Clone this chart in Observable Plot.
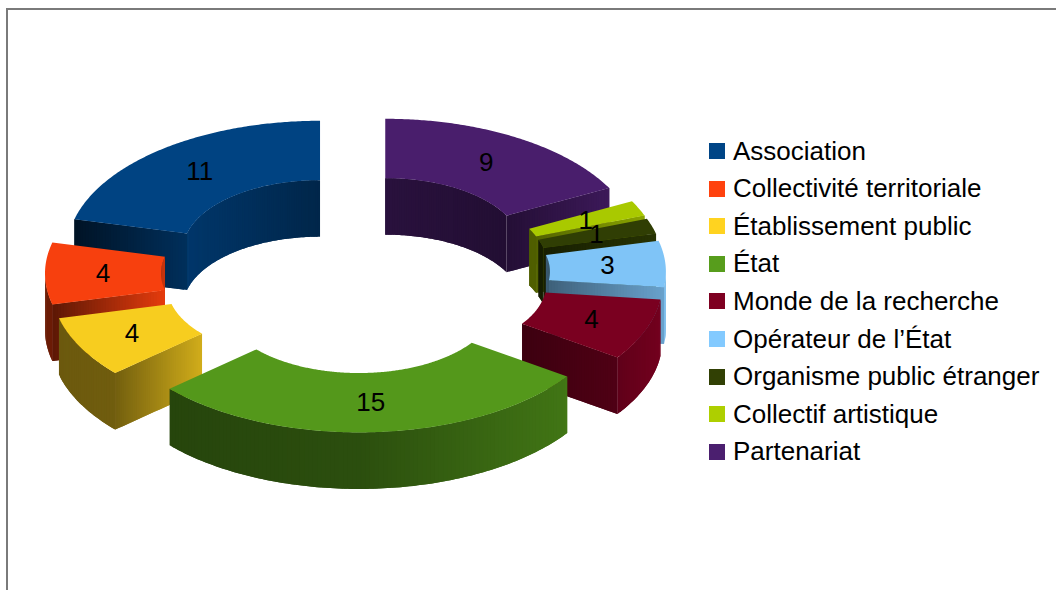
<!DOCTYPE html>
<html>
<head>
<meta charset="utf-8">
<script src="https://cdn.jsdelivr.net/npm/d3@7"></script>
<script src="https://cdn.jsdelivr.net/npm/@observablehq/plot@0.6"></script>
<style>
html,body{margin:0;padding:0;background:#fff;width:1056px;height:590px;overflow:hidden}
#wrap{position:relative;width:1056px;height:590px;font-family:"Liberation Sans",sans-serif}
#frame{position:absolute;left:6px;top:8px;width:1060px;height:600px;border-left:2px solid #7a7a7a;border-top:2px solid #7a7a7a;box-sizing:border-box}
#chart{position:absolute;left:0;top:0}
#chart svg{background:transparent}
.row{position:absolute;left:709px;height:38px;display:flex;align-items:center;font-size:26px;color:#000;white-space:nowrap}
.sw{width:16px;height:16px;margin-right:8px;flex:none}
</style>
</head>
<body>
<div id="wrap"><div id="frame"></div><div id="chart"></div><div id="legend"></div></div>
<script>
const categories = ["Association","Collectivité territoriale","Établissement public","État","Monde de la recherche","Opérateur de l’État","Organisme public étranger","Collectif artistique","Partenariat"];
const values = [11,4,4,15,4,3,1,1,9];
const colors = ["#004586","#ff420e","#ffd320","#579d1c","#7e0021","#83caff","#314004","#aecf00","#4b1f6f"];

const cx=355, cy=273, Ro=253, Ri=137, explode=57.5, k=0.512, wall=56.5;
const rad=Math.PI/180, total=d3.sum(values);
const endSideShade=new Map([["Association",[.28,.68]],["Collectivité territoriale",[.36,.9]],["Établissement public",[.45,.82]]]);
let acc=0;
const slices=categories.map((name,i)=>{
  const a0=acc/total*360; acc+=values[i]; const a1=acc/total*360, mid=(a0+a1)/2;
  return {name,value:values[i],color:colors[i],a0,a1,mid,
    ox:-explode*Math.sin(mid*rad),oy:-explode*Math.cos(mid*rad)};
});
const pt=(s,a,r,z=0)=>({
  x:cx+s.ox-r*Math.sin(a*rad),
  y:cy+k*(s.oy-r*Math.cos(a*rad))+z
});
const tone=(c,f)=>{const q=d3.rgb(c);return d3.rgb(q.r*f,q.g*f,q.b*f).formatHex();};
const outerShade=d3.scaleLinear([-1,0,.8,1],[.42,.5,.74,.92]);
const innerShade=d3.scaleLinear([-1,0,1],[.45,.55,.8]);

let pid=0; const verts=[];
const poly=(pts,fill)=>{const id=pid++;pts.forEach(p=>verts.push({...p,id,fill}));};
// Each strip runs on under the next one, so that no seam shows between strips.
const arcWall=(s,from,to,r,shade)=>{
  if(to<=from) return;
  const n=Math.max(1,Math.ceil((to-from)/1));
  const at=i=>from+(to-from)*Math.min(i,n)/n;
  for(let i=0;i<n;i++){
    const a=at(i),b=at(i+1),c=at(i+2);
    poly([pt(s,a,r),pt(s,b,r),pt(s,c,r),pt(s,c,r,wall),pt(s,b,r,wall),pt(s,a,r,wall)],tone(s.color,shade((a+b)/2)));
  }
};
const sideWall=(s,a,lo,hi)=>{
  const n=40,x0=pt(s,a,Ri).x,x1=pt(s,a,Ro).x,xl=Math.min(x0,x1),xr=Math.max(x0,x1);
  const at=i=>Ri+(Ro-Ri)*Math.min(i,n)/n;
  for(let i=0;i<n;i++){
    const t=(pt(s,a,(at(i)+at(i+1))/2).x-xl)/(xr-xl);
    poly([pt(s,a,at(i)),pt(s,a,at(i+2)),pt(s,a,at(i+2),wall),pt(s,a,at(i),wall)],tone(s.color,lo+(hi-lo)*t));
  }
};
const drawOrder=slices.slice().sort((p,q)=>Math.cos(q.mid*rad)-Math.cos(p.mid*rad));
drawOrder.forEach(s=>{
  const iShade=a=>innerShade(Math.sin(a*rad));
  const oShade=a=>outerShade(-Math.sin(a*rad));
  arcWall(s,s.a0,Math.min(s.a1,90),Ri,iShade);
  arcWall(s,Math.max(s.a0,270),s.a1,Ri,iShade);
  if(Math.sin(s.a1*rad)>0) sideWall(s,s.a1,...(endSideShade.get(s.name)||[.34,.86]));
  if(Math.sin(s.a0*rad)<0) sideWall(s,s.a0,.48,s.name.startsWith("Monde")?.63:.8);
  arcWall(s,Math.max(s.a0,90),Math.min(s.a1,270),Ro,oShade);
  const top=[];
  for(let a=s.a0;a<s.a1;a+=0.5) top.push(pt(s,a,Ro));
  top.push(pt(s,s.a1,Ro));
  for(let a=s.a1;a>s.a0;a-=0.5) top.push(pt(s,a,Ri));
  top.push(pt(s,s.a0,Ri));
  poly(top,tone(s.color,.97));
});
const labels=slices.map(s=>({...pt(s,s.mid,(Ro+Ri)/2),text:String(s.value)}));

const plot=Plot.plot({
  width:1056,height:590,margin:0,
  x:{domain:[0,1056],range:[0,1056],axis:null},
  y:{domain:[0,590],range:[0,590],axis:null},
  style:{background:"transparent"},
  marks:[
    Plot.line(verts,{x:"x",y:"y",z:"id",
      fill:{value:d=>d.fill,scale:null},stroke:"none",curve:"linear-closed"}),
    Plot.text(labels,{x:"x",y:"y",text:"text",fontSize:26,fontFamily:"Liberation Sans",fill:"#000"})
  ]
});
document.getElementById("chart").appendChild(plot);

const legend=document.getElementById("legend");
categories.forEach((name,i)=>{
  const r=document.createElement("div");r.className="row";r.style.top=(132+i*37.62)+"px";
  const sw=document.createElement("span");sw.className="sw";sw.style.background=colors[i];
  const t=document.createElement("span");t.textContent=name;
  r.append(sw,t);legend.appendChild(r);
});
</script>
</body>
</html>
